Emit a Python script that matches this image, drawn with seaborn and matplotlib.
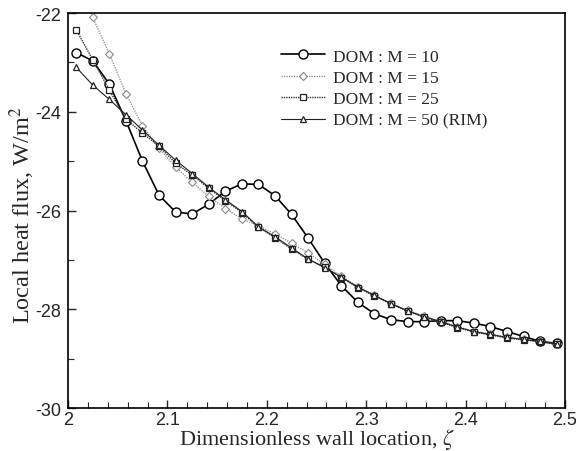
# local_heat_flux_dom_plot.py

import numpy as np
import pandas as pd
import matplotlib
matplotlib.use("Agg")
import matplotlib.pyplot as plt
from matplotlib.ticker import MultipleLocator, FuncFormatter
import seaborn as sns

# wall locations (cell centres)
zeta = [2.0083 + k / 60 for k in range(30)]

flux_m10 = [-22.80, -22.97, -23.44, -24.18, -25.00, -25.69, -26.03, -26.07, -25.87, -25.61,
            -25.46, -25.47, -25.70, -26.08, -26.56, -27.07, -27.52, -27.86, -28.09, -28.21,
            -28.25, -28.25, -28.23, -28.23, -28.28, -28.35, -28.45, -28.55, -28.65, -28.69]
flux_m15 = [-21.40, -22.09, -22.83, -23.63, -24.29, -24.74, -25.12, -25.43, -25.71, -25.96,
            -26.17, -26.31, -26.47, -26.66, -26.86, -27.09, -27.33, -27.54, -27.71, -27.88,
            -28.02, -28.14, -28.24, -28.35, -28.44, -28.50, -28.56, -28.61, -28.65, -28.70]
flux_m25 = [-22.34, -22.95, -23.56, -24.15, -24.43, -24.70, -25.04, -25.28, -25.55, -25.80,
            -26.04, -26.34, -26.55, -26.78, -26.99, -27.14, -27.36, -27.56, -27.73, -27.89,
            -28.04, -28.16, -28.26, -28.37, -28.46, -28.52, -28.58, -28.62, -28.66, -28.71]
flux_m50 = [-23.10, -23.46, -23.75, -24.06, -24.37, -24.68, -24.98, -25.25, -25.53, -25.78,
            -26.02, -26.33, -26.53, -26.76, -26.98, -27.16, -27.35, -27.55, -27.72, -27.89,
            -28.03, -28.15, -28.25, -28.36, -28.45, -28.51, -28.57, -28.61, -28.65, -28.70]

series_labels = ["DOM : M = 10", "DOM : M = 15", "DOM : M = 25", "DOM : M = 50 (RIM)"]

sns.set_style("ticks")
plt.rcParams["font.family"] = ["Liberation Sans", "DejaVu Sans"]
plt.rcParams["mathtext.fontset"] = "stix"
plt.rcParams["axes.unicode_minus"] = False

fig = plt.figure(figsize=(5.76, 4.52), dpi=100)
ax = fig.add_axes([0.118, 0.095, 0.863, 0.874])

styles = [
    dict(color="black", linestyle="-", linewidth=1.2, marker="o", markersize=6.5,
         markeredgecolor="black", mew=1.0),
    dict(color="#8a8a8a", linestyle=(0, (1, 1)), linewidth=0.9, marker="D", markersize=4.2,
         markeredgecolor="#8a8a8a", mew=0.8),
    dict(color="#333333", linestyle=(0, (1, 0.7)), linewidth=1.0, marker="s", markersize=5,
         markeredgecolor="#222222", mew=0.9),
    dict(color="#222222", linestyle="-", linewidth=0.8, marker="^", markersize=5,
         markeredgecolor="#222222", mew=0.9),
]

all_series = [flux_m10, flux_m15, flux_m25, flux_m50]
for vals, lab, st in zip(all_series, series_labels, styles):
    sns.lineplot(x=zeta, y=vals, ax=ax, label=lab, markerfacecolor="white", **st)

ax.set_xlim(2.0, 2.5)
ax.set_ylim(-30, -22)
ax.xaxis.set_major_locator(MultipleLocator(0.1))
ax.xaxis.set_minor_locator(MultipleLocator(0.02))
ax.yaxis.set_major_locator(MultipleLocator(2))
ax.yaxis.set_minor_locator(MultipleLocator(1))
ax.xaxis.set_major_formatter(FuncFormatter(lambda v, p: f"{v:g}"))
ax.yaxis.set_major_formatter(FuncFormatter(lambda v, p: f"{v:g}"))
ax.tick_params(which="both", direction="in", top=False, right=False)
ax.tick_params(which="major", length=6, width=1, labelsize=13)
ax.tick_params(which="minor", length=4, width=0.8)
ax.tick_params(axis="x", which="major", pad=2)
ax.tick_params(axis="y", which="major", pad=5)

for sp in ax.spines.values():
    sp.set_linewidth(1.2)
    sp.set_color("black")

ax.set_xlabel(r"Dimensionless wall location, $\zeta$", family="Liberation Serif",
              fontsize=16)
ax.set_ylabel(r"Local heat flux, W/m$^2$", family="Liberation Serif", fontsize=17.5)
ax.xaxis.set_label_coords(0.5, -0.046)
ax.yaxis.set_label_coords(-0.062, 0.49)

leg = ax.legend(loc="upper left", bbox_to_anchor=(0.398, 0.95), frameon=False,
                prop={"family": "Liberation Serif", "size": 12.5}, handlelength=2.5,
                handletextpad=0.45, labelspacing=0.3)

fig.savefig("out.png", dpi=100)
